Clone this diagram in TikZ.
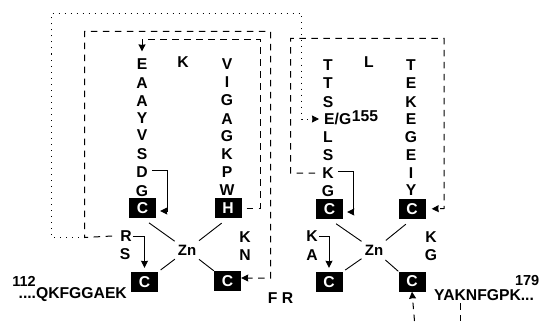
\documentclass[tikz,border=0pt]{standalone}
\usepackage{fontspec}
\setmainfont{Liberation Sans}
\usetikzlibrary{arrows.meta, calc}
\tikzset{
  res/.style={font=\fontsize{15.7}{17}\selectfont\bfseries, inner sep=1pt},
  cysbox/.style={fill=black, text=white, font=\fontsize{15.7}{17}\selectfont\bfseries,
                 minimum width=27pt, minimum height=20pt, inner sep=0pt},
  zinc/.style={font=\fontsize{15}{17}\selectfont\bfseries, circle, minimum size=30pt, inner sep=0pt},
  dashline/.style={line width=1pt, dash pattern=on 6.5pt off 5.5pt},
  dotline/.style={line width=1pt, dash pattern=on 1pt off 5pt},
  bond/.style={line width=0.9pt},
  turn/.style={line width=1pt}
}
\begin{document}
\begin{tikzpicture}[>={Stealth[length=7pt,width=7pt,inset=0.5pt]}, x=1pt, y=-1pt]
  \useasboundingbox (0,0) rectangle (540,321);

  % Left domain, letter columns
  \foreach \lab/\ypos [count=\i] in {E/64,A/83,A/101,Y/118,V/135,S/154,D/172,G/191}
    \node[res] (la\i) at (142,\ypos) {\lab};
  \foreach \lab/\ypos [count=\i] in {V/64,I/82,G/100,A/119,G/136,K/154,P/172,W/190}
    \node[res] (lb\i) at (227,\ypos) {\lab};
  \node[res] (lk) at (183,62) {K};

  % Right domain, letter columns
  \foreach \lab/\ypos [count=\i] in {T/65,T/83,S/102,L/137,S/155,K/173,G/191}
    \node[res] (ra\i) at (328,\ypos) {\lab};
  \node[res, anchor=west] (eg) at (323,119) {E/G};
  \node[res] (n155) at (365,116) {155};
  \foreach \lab/\ypos [count=\i] in {T/65,E/83,K/102,E/119,G/137,E/155,I/173,Y/190}
    \node[res] (rb\i) at (411,\ypos) {\lab};
  \node[res] (rl) at (369,62) {L};

  % Zinc sites
  \node[zinc] (zna) at (187,250) {Zn};
  \node[zinc] (znb) at (374,250) {Zn};
  \node[cysbox] (ca) at (142.5,208) {C};
  \node[cysbox] (cb) at (228,208) {H};
  \node[cysbox] (cc) at (144.5,282) {C};
  \node[cysbox] (cd) at (227.5,281) {C};
  \node[cysbox] (ce) at (329.5,209) {C};
  \node[cysbox] (cf) at (412,209) {C};
  \node[cysbox] (cg) at (329,282) {C};
  \node[cysbox] (ch) at (412,281.5) {C};

  \draw[bond, shorten <=8pt] (ca.south) -- (zna);
  \draw[bond, shorten <=8pt] (cb.south) -- (zna);
  \draw[bond, shorten <=3pt] (cc.north east) -- (zna);
  \draw[bond] (cd.north west) -- (zna);
  \draw[bond, shorten <=8pt] (ce.south) -- (znb);
  \draw[bond, shorten <=8pt] (cf.south) -- (znb);
  \draw[bond, shorten <=3pt] (cg.north east) -- (znb);
  \draw[bond] (ch.north west) -- (znb);

  % Letters around the sites
  \node[res] (ra) at (126,236) {R};
  \node[res] (rs) at (125,254) {S};
  \node[res] (kk) at (245,237) {K};
  \node[res] (kn) at (245,255) {N};
  \node[res] (ka) at (312,236) {K};
  \node[res] (aa) at (312,255) {A};
  \node[res] (kg) at (431,237) {K};
  \node[res] (gg) at (431,255) {G};
  \node[res] (fr) at (280.5,298) {F R};
  \node[res, anchor=east] (seqa) at (128,295) {....QKFGGAEK};
  \node[res, inner sep=0pt, font=\fontsize{14.5}{16}\selectfont\bfseries] (n112) at (24,281) {112};
  \node[res, anchor=west] (seqb) at (433,295) {YAKNFGPK...};
  \node[res, anchor=east, inner sep=0pt, font=\fontsize{14.5}{16}\selectfont\bfseries] (n179) at (539.5,281) {179};

  % Short solid turns
  \draw[turn, ->, shorten >=4pt] (la7.east) ++(3,-2) -- ++(16,0) |- ([yshift=-3pt]ca.east);
  \draw[turn, ->, shorten >=4pt] (ra.east) -| (cc.north);
  \draw[turn, ->, shorten >=4pt] (ra6.east) ++(3,-2) -- ++(16,0) |- ([yshift=-3pt]ce.east);
  \draw[turn, ->, shorten >=4pt] (ka.east) -| (cg.north);

  % Long dashed and dotted links
  \coordinate (jn) at (84.5,237.5);
  \coordinate (outr) at (270.5,31.5);
  \coordinate (innr) at (260.5,39.5);
  \coordinate (rtl) at (290.5,38.5);
  \coordinate (rtr) at (444,208.5);
  \coordinate (dotl) at (51.5,13.5);
  \coordinate (dotr) at (301.5,13.5);
  \coordinate (foota) at (414.5,321);
  \coordinate (footc) at (460.5,303);
  \coordinate (footb) at (460.5,321);

  \draw[dashline, ->] ([xshift=-7pt]ra.west) -- (jn) |- (outr) |- ([yshift=3pt]cd.east);
  \draw[dashline, ->, shorten <=5pt, shorten >=6pt] (cb.east) -| (innr) -| (la1.north);
  \draw[dashline, ->, shorten <=6pt, shorten >=6pt] (ra6.west) -| (rtl) -| (rtr) -- (cf.east);
  \draw[dotline, ->, shorten >=4pt] (jn) -| (dotl) -| (dotr) |- (eg.west);
  \draw[dashline, ->] (foota) -- (ch.south);
  \draw[dashline] (footc) -- (footb);
\end{tikzpicture}
\end{document}
